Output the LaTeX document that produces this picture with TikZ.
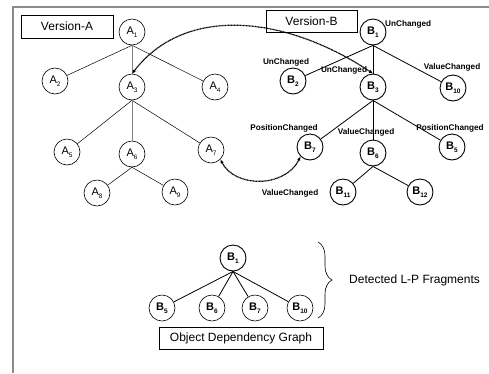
\documentclass[tikz,border=0pt]{standalone}
\usepackage{fontspec}
\setmainfont{Liberation Sans}
\usetikzlibrary{arrows.meta,decorations.pathreplacing}
% node index set as a lowered small figure
\newcommand\idx[1]{\raisebox{-2.6pt}{\fontsize{6.5}{7}\selectfont #1}}
\begin{document}
\begin{tikzpicture}[x=1pt,y=-1pt,
  anode/.style={circle,draw,line width=0.6pt,minimum size=26pt,inner sep=0pt,font=\fontsize{11}{12}\selectfont},
  bnode/.style={circle,draw,line width=0.9pt,minimum size=26pt,inner sep=0pt,font=\fontsize{11}{12}\selectfont\bfseries},
  aedge/.style={line width=0.5pt},
  avert/.style={line width=0.8pt,gray},
  bedge/.style={line width=0.8pt},
  chg/.style={font=\fontsize{8.2}{9}\selectfont\bfseries,inner sep=0pt},
  tagbox/.style={draw,line width=0.6pt,font=\fontsize{12}{14}\selectfont,inner sep=0pt},
  link/.style={line width=1.2pt,dash pattern=on 1pt off 0.5pt,{Latex[length=4pt,width=3.5pt]}-{Latex[length=4pt,width=3.5pt]}}
]
\useasboundingbox (0,0) rectangle (489,373);
% frame
\draw[line width=1.4pt,gray!90] (13,373) -- (13,7) -- (489,7);

% version labels
\node[tagbox,minimum width=92pt,minimum height=23pt] (va) at (67,26.5) {Version-A};
\node[tagbox,minimum width=91pt,minimum height=22pt] (vb) at (311.5,21) {Version-B};

% tree A
\node[anode] (A1) at (132,32) {A\idx{1}};
\node[anode] (A2) at (55,81) {A\idx{2}};
\node[anode] (A3) at (132,87) {A\idx{3}};
\node[anode] (A4) at (215,87) {A\idx{4}};
\node[anode] (A5) at (67,152) {A\idx{5}};
\node[anode] (A6) at (132,154) {A\idx{6}};
\node[anode] (A7) at (211,150) {A\idx{7}};
\node[anode] (A8) at (97,193) {A\idx{8}};
\node[anode] (A9) at (175,192) {A\idx{9}};
\draw[aedge] (A1.south) -- (A2);
\draw[aedge] (A1.south) -- (A4);
\draw[avert] (A1.south) -- (A3);
\draw[aedge] (A3.south) -- (A5);
\draw[aedge] (A3.south) -- (A7);
\draw[avert] (A3.south) -- (A6);
\draw[aedge] (A6.south) -- (A8);
\draw[aedge] (A6.south) -- (A9);

% tree B
\node[bnode] (B1) at (373,32) {B\idx{1}};
\node[bnode] (B2) at (293,81) {B\idx{2}};
\node[bnode] (B3) at (373,87) {B\idx{3}};
\node[bnode] (B10) at (453,88) {B\idx{10}};
\node[bnode] (B7) at (310,147) {B\idx{7}};
\node[bnode] (B6) at (373,153) {B\idx{6}};
\node[bnode] (B5) at (452,147) {B\idx{5}};
\node[bnode] (B11) at (343,192) {B\idx{11}};
\node[bnode] (B12) at (420,192) {B\idx{12}};
\draw[bedge] (B1.south) -- (B2);
\draw[bedge] (B1.south) -- (B3);
\draw[bedge] (B1.south) -- (B10);
\draw[bedge] (B3.south) -- (B7);
\draw[bedge] (B3.south) -- (B6);
\draw[bedge] (B3.south) -- (B5);
\draw[bedge] (B6.south) -- (B11);
\draw[bedge] (B6.south) -- (B12);

% change tags
\node[chg,anchor=west] (c1) at (385,24) {UnChanged};
\node[chg] (c2) at (286,62) {UnChanged};
\node[chg] (c3) at (344,70) {UnChanged};
\node[chg] (c10) at (452,67) {ValueChanged};
\node[chg] (c7) at (284,128) {PositionChanged};
\node[chg] (c6) at (366,132) {ValueChanged};
\node[chg] (c5) at (450,128) {PositionChanged};
\node[chg] (c11) at (290,193) {ValueChanged};

% correspondences between the versions
\draw[link] (A3.north) .. controls (185,5) and (285,15) .. (B3.north);
\draw[link] (A7.south east) .. controls (235,188) and (285,188) .. (B7.south west);

% object dependency graph
\node[bnode] (G1) at (233,258) {B\idx{1}};
\node[bnode,line width=0.6pt] (G5) at (162,308) {B\idx{5}};
\node[bnode,line width=0.6pt] (G6) at (212,308) {B\idx{6}};
\node[bnode,line width=0.6pt] (G7) at (255,308) {B\idx{7}};
\node[bnode,line width=0.6pt] (G10) at (300,308) {B\idx{10}};
\draw[bedge] (G1.south) -- (G5);
\draw[bedge] (G1.south) -- (G6);
\draw[bedge] (G1.south) -- (G7);
\draw[bedge] (G1.south) -- (G10);
\node[tagbox,minimum width=164pt,minimum height=22pt] (odg) at (241,338) {Object Dependency Graph};

\coordinate (bt) at (318,242);
\coordinate (bb) at (318,318);
\draw[line width=0.6pt,decorate,decoration={brace,amplitude=14pt}] (bt) -- (bb);
\node[anchor=west,font=\fontsize{12}{14}\selectfont,inner sep=0pt] (det) at (349,280) {Detected L-P Fragments};
\end{tikzpicture}
\end{document}
